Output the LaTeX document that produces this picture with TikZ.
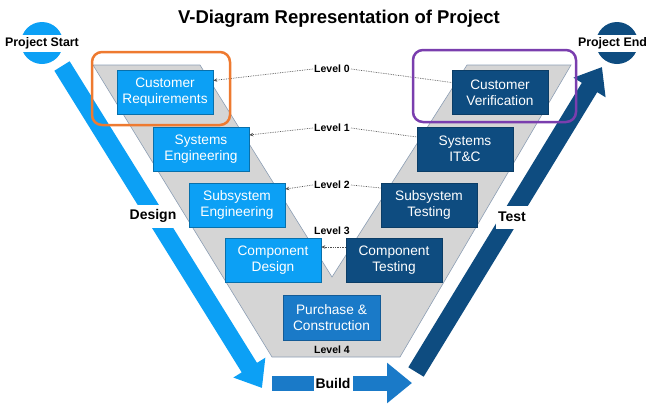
\documentclass[tikz,border=0pt]{standalone}
\usepackage{fontspec}
\setmainfont{Liberation Sans}
\usetikzlibrary{arrows.meta,calc}
\definecolor{lblue}{RGB}{12,160,245}
\definecolor{dblue}{RGB}{14,76,128}
\definecolor{mblue}{RGB}{26,122,200}
\definecolor{vgray}{RGB}{213,213,213}
\definecolor{vedge}{RGB}{140,158,180}
\definecolor{frameorange}{RGB}{238,122,48}
\definecolor{framepurple}{RGB}{122,62,174}
\definecolor{dotgray}{RGB}{80,80,80}

\begin{document}
\begin{tikzpicture}[x=1pt,y=-1pt,
  box/.style={minimum width=96pt, minimum height=44pt, inner sep=0pt, align=center,
    text=white, font=\fontsize{13.7}{16}\selectfont, line width=0.6pt},
  lbox/.style={box, fill=lblue, draw=lblue!70!black},
  rbox/.style={box, fill=dblue, draw=dblue!80!black},
  pbox/.style={box, fill=mblue, draw=mblue!75!black, minimum width=97pt, minimum height=45pt},
  lvl/.style={font=\bfseries\fontsize{10.5}{12}\selectfont, inner sep=1pt},
  phase/.style={font=\bfseries\fontsize{14}{16}\selectfont, fill=white, inner xsep=2pt,
    inner ysep=0pt, minimum height=23pt},
  link/.style={dotgray, densely dotted, line width=0.7pt},
  linkarrow/.style={link, -{Stealth[length=4pt,width=3.5pt]}},
  bigarrow/.style={line width=18pt, -{Triangle[length=24pt,width=36pt]}},
  frame/.style={rounded corners=10pt, line width=2.5pt},
  milestone/.style={circle, minimum size=42pt, inner sep=0pt},
  mslabel/.style={font=\bfseries\fontsize{12.4}{14}\selectfont, fill=white,
    inner xsep=0pt, inner ysep=0pt, minimum height=17pt},
]
\useasboundingbox (0,0) rectangle (648,405);

% title
\node[font=\bfseries\fontsize{18.5}{22}\selectfont] (title) at (339,18.5)
  {V-Diagram Representation of Project};

% grey V band
\filldraw[fill=vgray, draw=vedge, line width=0.6pt]
  (93,65) -- (200,65) -- (332,277) -- (467,65) -- (571,65)
  -- (400,357) -- (272,357) -- cycle;

% design side
\node[lbox] (cr)  at (165,92.5)  {Customer\\Requirements};
\node[lbox] (se)  at (201,149)   {Systems\\Engineering};
\node[lbox] (sse) at (237,205)   {Subsystem\\Engineering};
\node[lbox] (cd)  at (273,260.5) {Component\\Design};

% test side
\node[rbox] (cv)  at (500,92.5)  {Customer\\Verification};
\node[rbox] (sit) at (465,149)   {Systems\\IT\&C};
\node[rbox] (sst) at (429,205)   {Subsystem\\Testing};
\node[rbox] (ct)  at (394,260.5) {Component\\Testing};

% bottom of the V
\node[pbox] (pc) at (331.5,317.5) {Purchase \&\\Construction};

% level labels
\node[lvl] (l0) at (332,69)  {Level 0};
\node[lvl] (l1) at (332,128) {Level 1};
\node[lvl] (l2) at (332,185) {Level 2};
\node[lvl] (l3) at (332,231) {Level 3};
\node[lvl] (l4) at (332,350) {Level 4};

% level links
\draw[linkarrow] (l0.west) -- ([yshift=12pt]cr.east);
\draw[link]      (l0.east) -- ([yshift=10pt]cv.west);
\draw[linkarrow] (l1.west) -- ([yshift=14pt]se.east);
\draw[link]      (l1.east) -- ([yshift=12pt]sit.west);
\draw[linkarrow] (l2.west) -- ([yshift=16pt]sse.east);
\draw[link]      (l2.east) -- ([yshift=17pt]sst.west);
\draw[linkarrow] ([yshift=13.5pt]ct.west) -- ([yshift=13.5pt]cd.east);

% milestones
\node[milestone, fill=lblue] (start) at (42,43) {};
\node[mslabel] (startlbl) at (start) {Project Start};
\node[milestone, fill=dblue] (finish) at (617,43) {};
\node[mslabel] (finishlbl) at ([xshift=-4.5pt]finish.center) {Project End};

% phase arrows
\coordinate (dsS) at (62,66);
\coordinate (dsT) at (262,388);
\draw[bigarrow, lblue] (dsS) -- (dsT);
\node[phase] (design) at (153,216) {Design};

\coordinate (tsS) at (416,372);
\coordinate (tsT) at (602,67);
\draw[bigarrow, dblue] (tsS) -- (tsT);
\node[phase] (test) at (512,217) {Test};

\coordinate (bdS) at (272,383);
\coordinate (bdT) at (412,383);
\draw[mblue, line width=15pt, -{Triangle[length=25pt,width=39pt]}] (bdS) -- (bdT);
\node[phase, minimum height=18pt] (build) at (333,383) {Build};

% highlight frames
\draw[frame, frameorange] (92,52) rectangle (230,125);
\draw[frame, framepurple] (413,50) rectangle (576,122);
\end{tikzpicture}
\end{document}
